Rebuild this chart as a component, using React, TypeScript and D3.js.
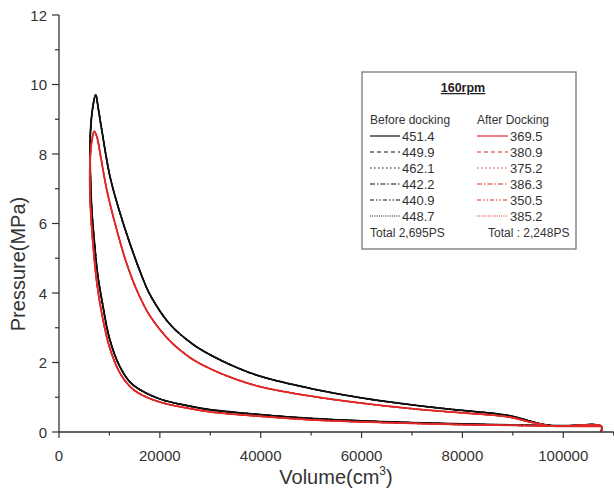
import React from "react";
import * as d3 from "d3";

// ---- data ----
const xTicks = [0, 20000, 40000, 60000, 80000, 100000];
const xMinor = [10000, 30000, 50000, 70000, 90000, 110000];
const yTicks = [0, 2, 4, 6, 8, 10, 12];
const yMinor = [1, 3, 5, 7, 9, 11];

// Before docking cycle (V cm3, p MPa)
const beforeLoop: [number, number][] = [
  [107500, 0], [107500, 0.17], [100000, 0.18], [90000, 0.2], [80000, 0.23], [70000, 0.27],
  [60000, 0.32], [50000, 0.39], [40000, 0.5], [30000, 0.64], [25000, 0.77], [20000, 0.95],
  [16000, 1.22], [14000, 1.45], [12000, 1.9], [10000, 2.7], [8500, 3.8], [7700, 4.5],
  [7000, 5.5], [6500, 6.4], [6250, 7.3], [6200, 8.5], [6700, 9.35], [7280, 9.7],
  [7800, 9.3], [8470, 8.7], [10110, 7.35], [12000, 6.35], [14000, 5.45], [16400, 4.5],
  [18050, 3.95], [22000, 3.1], [26600, 2.52], [30000, 2.22], [35000, 1.87], [40000, 1.6],
  [50000, 1.25], [60000, 0.98], [70000, 0.78], [80000, 0.62], [87000, 0.52], [90000, 0.45],
  [93000, 0.33], [96000, 0.22], [98000, 0.18], [107500, 0.17],
];

// After docking cycle
const afterLoop: [number, number][] = [
  [107500, 0], [107500, 0.17], [100000, 0.17], [90000, 0.19], [80000, 0.21], [70000, 0.25],
  [60000, 0.29], [50000, 0.35], [40000, 0.45], [30000, 0.58], [25000, 0.7], [20000, 0.86],
  [16000, 1.1], [14000, 1.32], [12000, 1.72], [10000, 2.45], [8500, 3.4], [7500, 4.3],
  [6800, 5.3], [6300, 6.3], [6100, 7.1], [6200, 7.9], [6600, 8.45], [7000, 8.65],
  [7500, 8.5], [8300, 7.9], [9500, 6.95], [11300, 5.9], [13300, 4.9], [15670, 4.0],
  [18000, 3.35], [22000, 2.62], [26000, 2.14], [30000, 1.82], [35000, 1.52], [40000, 1.3],
  [50000, 1.03], [60000, 0.83], [70000, 0.67], [80000, 0.55], [87000, 0.47], [90000, 0.41],
  [93000, 0.3], [96000, 0.21], [98000, 0.17], [107500, 0.17],
];

const beforeLabels = ["451.4", "449.9", "462.1", "442.2", "440.9", "448.7"];
const afterLabels = ["369.5", "380.9", "375.2", "386.3", "350.5", "385.2"];
const dashes = ["", "4,3", "1.5,2.5", "5,2,1.5,2", "4,2,1.5,2,1.5,2", "1,1.2"];

const BLACK = "#111111";
const RED = "#e02a2a";
const FONT = "'Liberation Sans', Arial, sans-serif";

export default function App() {
  const x = d3.scaleLinear().domain([0, 110000]).range([59, 613.7]);
  const y = d3.scaleLinear().domain([0, 12]).range([432, 15]);
  const line = d3
    .line<[number, number]>()
    .x((d) => x(d[0]))
    .y((d) => y(d[1]))
    .curve(d3.curveCatmullRom.alpha(0.5));

  const axisColor = "#333";

  return (
    <div style={{ position: "absolute", left: 0, top: 0 }}>
      <svg width={614} height={488} style={{ display: "block", background: "#fff" }} fontFamily={FONT}>
        {/* curves */}
        {dashes.map((da, i) => (
          <path key={"b" + i} d={line(beforeLoop) || ""} fill="none" stroke={BLACK}
            strokeWidth={i === 0 ? 1.8 : 1.3} strokeDasharray={da || undefined} />
        ))}
        {dashes.map((da, i) => (
          <path key={"r" + i} d={line(afterLoop) || ""} fill="none" stroke={RED}
            strokeWidth={i === 0 ? 1.8 : 1.3} strokeDasharray={da || undefined} />
        ))}

        {/* axes */}
        <line x1={x(0)} x2={x(110000)} y1={y(0)} y2={y(0)} stroke={axisColor} strokeWidth={1.3} />
        <line x1={x(0)} x2={x(0)} y1={y(0)} y2={y(12)} stroke={axisColor} strokeWidth={1.3} />
        {xTicks.map((t) => (
          <g key={"xt" + t}>
            <line x1={x(t)} x2={x(t)} y1={y(0)} y2={y(0) + 6} stroke={axisColor} strokeWidth={1.2} />
            <text x={x(t)} y={461} textAnchor="middle" fontSize={15} fill="#333">{t}</text>
          </g>
        ))}
        {xMinor.map((t) => (
          <line key={"xm" + t} x1={x(t)} x2={x(t)} y1={y(0)} y2={y(0) + 3.5} stroke={axisColor} strokeWidth={1.2} />
        ))}
        {yTicks.map((t) => (
          <g key={"yt" + t}>
            <line x1={x(0) - 7} x2={x(0)} y1={y(t)} y2={y(t)} stroke={axisColor} strokeWidth={1.2} />
            <text x={47} y={y(t) + 5.5} textAnchor="end" fontSize={15} fill="#333">{t}</text>
          </g>
        ))}
        {yMinor.map((t) => (
          <line key={"ym" + t} x1={x(0) - 4} x2={x(0)} y1={y(t)} y2={y(t)} stroke={axisColor} strokeWidth={1.2} />
        ))}

        {/* axis titles */}
        <text x={336} y={484} textAnchor="middle" fontSize={20} fill="#333">
          Volume(cm<tspan fontSize={12} dy={-9}>3</tspan><tspan dy={9}>)</tspan>
        </text>
        <text transform="translate(25,264) rotate(-90)" textAnchor="middle" fontSize={20} fill="#333">
          Pressure(MPa)
        </text>

        {/* legend */}
        <rect x={362} y={72} width={214} height={177} fill="#fff" stroke="#777" strokeWidth={1.3} />
        <text x={463} y={92} textAnchor="middle" fontSize={12.5} fontWeight="bold" fill="#222"
          textDecoration="underline">160rpm</text>
        <text x={370} y={124} fontSize={12} fill="#333">Before docking</text>
        <text x={477} y={124} fontSize={12} fill="#333">After Docking</text>
        {beforeLabels.map((lab, i) => {
          const cy = 136 + 16 * i;
          return (
            <g key={"lb" + i}>
              <line x1={370} x2={400} y1={cy} y2={cy} stroke={BLACK} strokeWidth={1.2}
                strokeDasharray={dashes[i] || undefined} />
              <text x={402} y={cy + 5} fontSize={13} fill="#333">{lab}</text>
            </g>
          );
        })}
        {afterLabels.map((lab, i) => {
          const cy = 136 + 16 * i;
          return (
            <g key={"la" + i}>
              <line x1={477} x2={508} y1={cy} y2={cy} stroke={RED} strokeWidth={1.2}
                strokeDasharray={dashes[i] || undefined} />
              <text x={510} y={cy + 5} fontSize={13} fill="#333">{lab}</text>
            </g>
          );
        })}
        <text x={370} y={237} fontSize={12} fill="#333">Total 2,695PS</text>
        <text x={488} y={237} fontSize={12} fill="#333">Total : 2,248PS</text>
      </svg>
    </div>
  );
}
